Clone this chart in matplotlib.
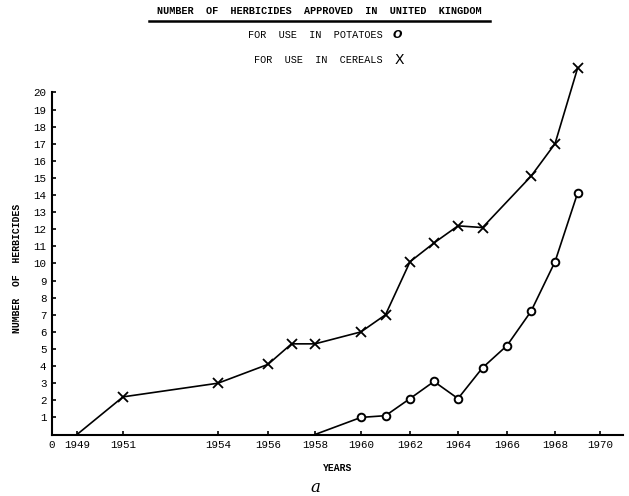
import numpy as np
import matplotlib
matplotlib.use("Agg")
import matplotlib.pyplot as plt
from matplotlib.lines import Line2D

# ---- data ----
cereal_years = [1949, 1951, 1954, 1956, 1957, 1958, 1960, 1961, 1962, 1963, 1964, 1965, 1967, 1968, 1969]
cereal_values = [0, 2.2, 3.0, 4.1, 5.3, 5.3, 6.0, 7.0, 10.1, 11.2, 12.2, 12.1, 15.1, 17.0, 21.4]

potato_years = [1958, 1960, 1961, 1962, 1963, 1964, 1965, 1966, 1967, 1968, 1969]
potato_values = [0, 1.0, 1.1, 2.1, 3.1, 2.1, 3.9, 5.2, 7.2, 10.1, 14.1]

x_tick_years = [1948, 1949, 1951, 1954, 1956, 1958, 1960, 1962, 1964, 1966, 1968, 1970]
x_tick_labels = ['0', '1949', '1951', '1954', '1956', '1958', '1960', '1962', '1964', '1966', '1968', '1970']
y_ticks = list(range(1, 21))

# hand-drawn (non-uniform) year axis: anchor years -> relative positions
anchor_years = np.array([1948, 1949, 1951, 1954, 1956, 1958, 1960, 1962, 1964, 1966, 1968, 1970, 1971], float)
anchor_pos = np.array([52, 77, 123, 218, 268, 315, 361, 410, 458, 507, 555, 600, 623], float)

def fwd(y):
    return np.interp(np.asarray(y, float), anchor_years, anchor_pos)

def inv(p):
    return np.interp(np.asarray(p, float), anchor_pos, anchor_years)

W, H = 629, 496
fig = plt.figure(figsize=(W / 100, H / 100), dpi=100)
fig.patch.set_facecolor('white')

left, right = 52 / W, 623 / W
bottom = (H - 434.5) / H
top = (H - 49) / H
ax = fig.add_axes([left, bottom, right - left, top - bottom])
ax.set_xscale('function', functions=(fwd, inv))
ax.set_xlim(1948, 1971)
ax.set_ylim(0, 22.54)

mono = 'Liberation Mono'

ax.plot(cereal_years, cereal_values, color='black', lw=1.2,
        marker='x', ms=7, mew=1.3, markevery=list(range(1, len(cereal_years))))
ax.plot(potato_years, potato_values, color='black', lw=1.2,
        marker='o', ms=5.5, mew=1.4, mfc='white', markevery=list(range(1, len(potato_years))))

for s in ['top', 'right']:
    ax.spines[s].set_visible(False)
ax.spines['left'].set_bounds(0, 20)
ax.spines['left'].set_linewidth(1.5)
ax.spines['bottom'].set_linewidth(1.5)

ax.set_xticks(x_tick_years)
ax.set_xticklabels(x_tick_labels, fontfamily=mono, fontsize=7.8)
ax.set_yticks(y_ticks)
ax.set_yticklabels([str(v) for v in y_ticks], fontfamily=mono, fontsize=7.8)
ax.tick_params(axis='both', direction='in', length=3, width=1.2, pad=4)
ax.minorticks_off()

ax.set_xlabel('YEARS', fontfamily=mono, fontsize=7, fontweight='bold', labelpad=9)
ax.set_ylabel('NUMBER  OF  HERBICIDES', fontfamily=mono, fontsize=7, fontweight='bold')
ax.yaxis.set_label_coords(-0.052, 0.432)

# title and legend text
fig.text(319 / W, 1 - 11 / H, 'NUMBER  OF  HERBICIDES  APPROVED  IN  UNITED  KINGDOM',
         ha='center', va='center', fontfamily=mono, fontsize=7.3, fontweight='bold')
fig.add_artist(Line2D([149 / W, 490 / W], [1 - 21 / H, 1 - 21 / H], color='black', lw=1.8))
fig.text(383 / W, 1 - 35 / H, 'FOR  USE  IN  POTATOES', ha='right', va='center',
         fontfamily=mono, fontsize=7.3)
fig.text(397 / W, 1 - 35 / H, 'O', ha='center', va='center',
         fontfamily='DejaVu Sans', fontsize=8, fontweight='bold', style='italic')
fig.text(383 / W, 1 - 60 / H, 'FOR  USE  IN  CEREALS', ha='right', va='center',
         fontfamily=mono, fontsize=7.3)
fig.text(399 / W, 1 - 60 / H, 'X', ha='center', va='center',
         fontfamily='DejaVu Sans', fontsize=10)
fig.text(315 / W, 1 - 487 / H, 'a', ha='center', va='center',
         fontfamily='DejaVu Serif', fontsize=12, style='italic')

fig.savefig('out.png', dpi=100, facecolor='white')
